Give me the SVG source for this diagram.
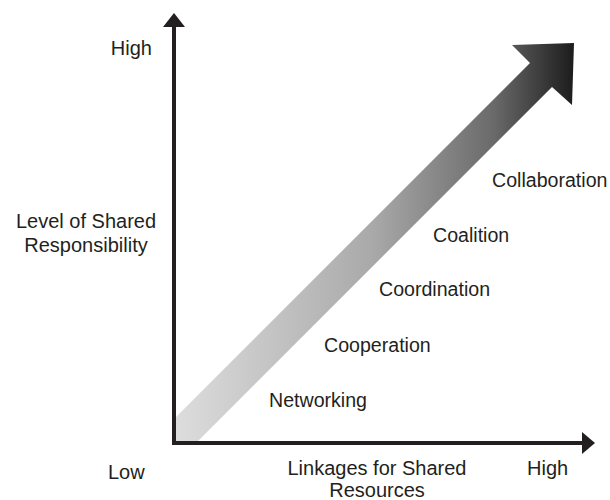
<svg xmlns="http://www.w3.org/2000/svg" width="610" height="500" viewBox="0 0 610 500">
<defs>
<linearGradient id="g" gradientUnits="userSpaceOnUse" x1="172" y1="0" x2="574" y2="0">
<stop offset="0" stop-color="#dedede"/>
<stop offset="0.5" stop-color="#a9a9a9"/>
<stop offset="0.8" stop-color="#6a6a6a"/>
<stop offset="1" stop-color="#1c1c1c"/>
</linearGradient>
<style>
text{font-family:"Liberation Sans",Arial,sans-serif;fill:#231f20}
.ax{font-size:20px}
.st{font-size:19.6px}
.axis{stroke:#231f20;stroke-width:4;fill:none}
</style>
</defs>
<g id="bigArrow">
<polygon points="172,421 530,63 512,45 574,43 572,105 552,87 196,443 172,443" fill="url(#g)"/>
</g>
<g id="connectors">
<line class="axis" x1="174" y1="24" x2="174" y2="445"/>
<line class="axis" x1="172" y1="443" x2="584" y2="443"/>
<polygon points="174,13 185,27 163,27" fill="#231f20"/>
<polygon points="595,443 582,432 582,454" fill="#231f20"/>
</g>
<g id="yLabels">
<text class="ax" x="152" y="55" text-anchor="end">High</text>
<text class="ax" x="86" y="228" text-anchor="middle">Level of Shared</text>
<text class="ax" x="86" y="252" text-anchor="middle">Responsibility</text>
<text class="ax" x="108" y="479">Low</text>
</g>
<g id="xLabels">
<text class="ax" x="377" y="475" text-anchor="middle">Linkages for Shared</text>
<text class="ax" x="377" y="497" text-anchor="middle">Resources</text>
<text class="ax" x="527" y="475">High</text>
</g>
<g id="networking"><text class="st" x="269" y="407">Networking</text></g>
<g id="cooperation"><text class="st" x="324" y="352">Cooperation</text></g>
<g id="coordination"><text class="st" x="379" y="296">Coordination</text></g>
<g id="coalition"><text class="st" x="433" y="242">Coalition</text></g>
<g id="collaboration"><text class="st" x="492" y="187">Collaboration</text></g>
</svg>
